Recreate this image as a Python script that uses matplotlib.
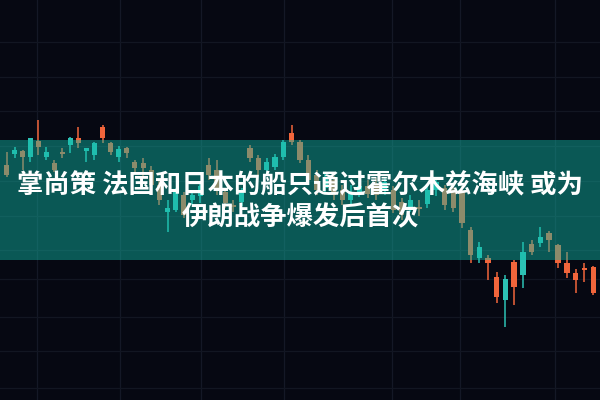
import numpy as np
import matplotlib
matplotlib.use("Agg")
import matplotlib.pyplot as plt

# ---- data (candle index and OHLC prices) ----
idx = list(range(71))
open_ = [235, 246, 249, 243, 259, 243, 237, 248, 255, 262, 249, 245, 273, 257, 243, 252, 238, 237,
         230, 215, 188, 190, 205, 200, 204, 235, 230, 208, 195, 198, 252, 242, 230, 233, 243, 267,
         258, 240, 225, 212, 220, 210, 200, 208, 214, 215, 210, 210, 198, 193, 193, 196, 210, 212,
         210, 208, 170, 142, 142, 123, 100, 138, 125, 156, 157, 167, 155, 137, 127, 132, 133]
high = [248, 253, 250, 262, 280, 253, 240, 252, 263, 273, 252, 258, 275, 258, 254, 253, 240, 242,
        234, 220, 200, 212, 208, 210, 218, 242, 240, 212, 200, 212, 255, 245, 242, 246, 260, 275,
        260, 245, 230, 228, 224, 215, 215, 218, 220, 222, 222, 214, 202, 205, 200, 215, 222, 215,
        214, 214, 173, 158, 145, 128, 125, 140, 158, 160, 173, 169, 156, 148, 131, 137, 134]
low = [223, 242, 230, 238, 245, 240, 228, 242, 247, 252, 238, 240, 257, 245, 238, 242, 228, 223,
       212, 195, 168, 188, 182, 195, 197, 220, 205, 192, 188, 194, 238, 225, 224, 230, 240, 255,
       237, 215, 205, 208, 200, 195, 196, 203, 202, 200, 205, 187, 180, 188, 184, 192, 204, 190,
       188, 172, 137, 137, 120, 97, 73, 95, 112, 145, 153, 148, 132, 122, 107, 118, 105]
close = [225, 250, 243, 262, 253, 248, 230, 246.5, 262, 257, 252, 257, 262, 248, 251, 247, 232, 232,
         215, 200, 192, 208, 185, 205, 214, 225, 210, 197, 193, 208, 242, 230, 238, 243, 258, 258,
         240, 220, 210, 222, 205, 200, 208, 214, 206, 205, 218, 190, 185, 200, 191, 210, 218, 195,
         192, 177, 145, 153, 137, 103, 121, 113, 148, 148, 163, 160, 137, 127, 120, 130, 107]

title_line1 = "掌尚策 法国和日本的船只通过霍尔木兹海峡 或为"
title_line2 = "伊朗战争爆发后首次"

# ---- style ----
BG = "#060812"
UP = "#2cc2b5"
DOWN = "#f1653b"
BAND = "#11baa7"

plt.rcParams['font.family'] = ['Noto Sans CJK SC', 'DejaVu Sans']

fig = plt.figure(figsize=(6, 4), dpi=100, facecolor=BG)
ax = fig.add_axes([0, 0, 1, 1])
ax.set_facecolor(BG)

# slightly non-uniform horizontal spacing (perspective of the photo)
B, C = 7.905, 0.00678
def fwd(i):
    i = np.asarray(i, dtype=float)
    return B * i + C * i * i
def inv(p):
    p = np.asarray(p, dtype=float)
    return (-B + np.sqrt(np.maximum(B * B + 4 * C * p, 0))) / (2 * C)
ax.set_xscale('function', functions=(fwd, inv))
ax.set_xlim(float(inv(-6.7)), float(inv(593.3)))
ax.set_ylim(0, 400)

# faint grid
for gx in [37, 120, 201, 284, 392, 460, 555]:
    ax.axvline(float(inv(gx - 6.7)), color="#141826", lw=0.9, zorder=0.5)
for gy in [42, 77, 111, 146, 181, 216, 250, 279, 317, 351, 388]:
    ax.axhline(400 - gy, color="#121622", lw=0.9, zorder=0.5)

o = np.array(open_, float); c = np.array(close, float)
h = np.array(high, float); l = np.array(low, float)
x = np.array(idx, float)
cols = np.where(c >= o, UP, DOWN)
bottoms = np.minimum(o, c)
heights = np.maximum(np.abs(c - o), 1.6)
ax.vlines(x, l, h, colors=cols, lw=1.1, zorder=2)
ax.bar(x, heights, bottom=bottoms, width=0.62, color=cols, zorder=3, linewidth=0)

# translucent teal band
ax.axhspan(400 - 260, 400 - 140, color=BAND, alpha=0.45, lw=0, zorder=4)

ax.axis('off')

fig.text(0.5, 1 - 186 / 400, title_line1, color="white", fontsize=19, fontweight="bold",
         ha="center", va="center", zorder=10)
fig.text(0.5, 1 - 218 / 400, title_line2, color="white", fontsize=19, fontweight="bold",
         ha="center", va="center", zorder=10)

fig.savefig("out.png", dpi=100, facecolor=BG)
